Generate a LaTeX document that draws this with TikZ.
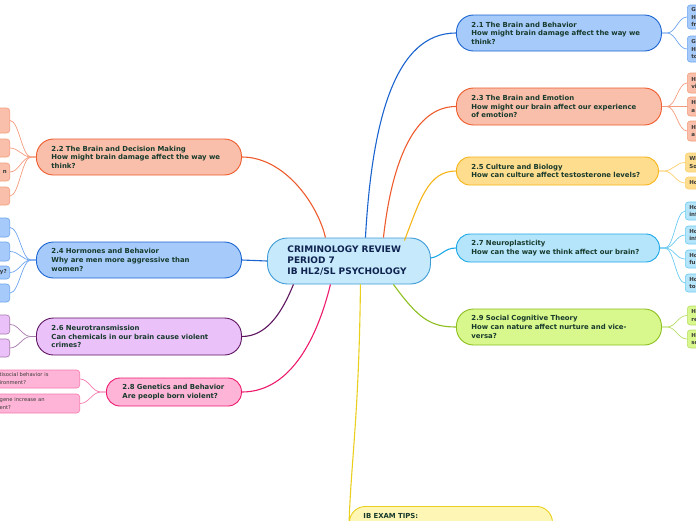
\documentclass[tikz,border=0pt]{standalone}
\usepackage{fontspec}
\setmainfont{DejaVu Sans}
\definecolor{maintext}{HTML}{173A2C}
\definecolor{ctext}{HTML}{0F2350}
\definecolor{leaftext}{HTML}{3A3A3A}
\definecolor{bluef}{HTML}{A6CBFB}\definecolor{blued}{HTML}{1B64D0}\definecolor{bluel}{HTML}{6EA5EE}
\definecolor{salf}{HTML}{F9BFAA}\definecolor{sald}{HTML}{EE5B2C}\definecolor{sall}{HTML}{F59C7E}
\definecolor{yelf}{HTML}{FFDD8E}\definecolor{yeld}{HTML}{F6B418}\definecolor{yell}{HTML}{FAD070}
\definecolor{cyaf}{HTML}{B5E5FB}\definecolor{cyad}{HTML}{1BA8E6}\definecolor{cyal}{HTML}{6CCBF2}
\definecolor{grnf}{HTML}{D8F78C}\definecolor{grnd}{HTML}{8CBF1F}\definecolor{grnl}{HTML}{B8DD68}
\definecolor{purf}{HTML}{EBC1FA}\definecolor{purd}{HTML}{5E1560}\definecolor{purl}{HTML}{A779AD}
\definecolor{pnkf}{HTML}{FEB4D6}\definecolor{pnkd}{HTML}{EC1B6D}\definecolor{pnkl}{HTML}{F57BAE}
\definecolor{ibf}{HTML}{FEF6B5}\definecolor{ibd}{HTML}{EBCF1E}
\definecolor{cenf}{HTML}{C6E9FB}\definecolor{cend}{HTML}{3E9BD6}
\begin{document}
\begin{tikzpicture}[x=1pt,y=-1pt,
  mn/.style={line width=0.9pt, anchor=west, inner xsep=15pt, inner ysep=0pt, align=left,
    font=\bfseries\fontsize{6.9}{8.6}\selectfont, text=maintext},
  cn/.style={line width=0.9pt, anchor=west, inner xsep=20pt, inner ysep=0pt, align=left,
    font=\bfseries\fontsize{9}{11}\selectfont, text=ctext, fill=cenf, draw=cend,
    text width=123pt, minimum height=46pt, rounded corners=20pt},
  rleaf/.style={line width=0.6pt, anchor=west, inner xsep=4pt, inner ysep=0pt, align=left,
    text width=32pt, rounded corners=3pt, font=\bfseries\fontsize{5.5}{7.2}\selectfont, text=leaftext},
  lleaf/.style={line width=0.6pt, anchor=east, inner xsep=3pt, inner ysep=0pt, align=right,
    text width=34pt, rounded corners=3pt, font=\bfseries\fontsize{5.5}{7.2}\selectfont, text=leaftext},
  wleaf/.style={line width=0.6pt, anchor=east, inner xsep=3pt, inner ysep=0pt, align=left,
    text width=77pt, rounded corners=3pt, font=\fontsize{5.2}{8}\selectfont, text=leaftext},
  conn/.style={line width=1.1pt},
  lc/.style={line width=0.7pt}
]
\useasboundingbox (0,0) rectangle (696,520);

% center
\node[cn] (c) at (267,261) {CRIMINOLOGY REVIEW\\PERIOD 7\\IB HL2/SL PSYCHOLOGY};

% main topic nodes
\node[mn, fill=bluef, draw=blued, text width=175pt, minimum height=36pt, rounded corners=17pt] (n21) at (456,33)
  {2.1 The Brain and Behavior\\How might brain damage affect the way we\\think?};
\node[mn, fill=salf, draw=sald, text width=175pt, minimum height=37pt, rounded corners=17pt] (n23) at (456,106.5)
  {2.3 The Brain and Emotion\\How might our brain affect our experience\\of emotion?};
\node[mn, fill=yelf, draw=yeld, text width=172pt, minimum height=28pt, rounded corners=13.5pt] (n25) at (456,171)
  {2.5 Culture and Biology\\How can culture affect testosterone levels?};
\node[mn, fill=cyaf, draw=cyad, text width=173pt, minimum height=28pt, rounded corners=13.5pt] (n27) at (456,248)
  {2.7 Neuroplasticity\\How can the way we think affect our brain?};
\node[mn, fill=grnf, draw=grnd, text width=175pt, minimum height=36pt, rounded corners=17pt] (n29) at (456,327)
  {2.9 Social Cognitive Theory\\How can nature affect nurture and vice-\\versa?};
\node[mn, fill=salf, draw=sald, text width=175pt, minimum height=36pt, rounded corners=17pt] (n22) at (36,157)
  {2.2 The Brain and Decision Making\\How might brain damage affect the way we\\think?};
\node[mn, fill=bluef, draw=blued, text width=175pt, minimum height=36pt, rounded corners=17pt] (n24) at (36,260)
  {2.4 Hormones and Behavior\\Why are men more aggressive than\\women?};
\node[mn, fill=purf, draw=purd, text width=175pt, minimum height=37pt, rounded corners=17pt] (n26) at (36,336.5)
  {2.6 Neurotransmission\\Can chemicals in our brain cause violent\\crimes?};
\node[mn, fill=pnkf, draw=pnkd, inner xsep=16pt, text width=103pt, minimum height=28pt, rounded corners=13.5pt] (n28) at (106,392)
  {2.8 Genetics and Behavior\\Are people born violent?};
\node[mn, anchor=north west, fill=ibf, draw=ibd, inner xsep=14pt, inner ysep=6.5pt, text width=175pt,
  text depth=26pt, rounded corners=16pt] (ib) at (349,506) {IB EXAM TIPS:};

% main connectors
\draw[conn, blued] ([xshift=16.5pt]c.north) .. controls (372,120) and (395,33) .. (n21.west);
\draw[conn, sald] ([xshift=34.5pt]c.north) .. controls (392,160) and (415,106.5) .. (n23.west);
\draw[conn, yeld] ([xshift=55.5pt,yshift=-3pt]c.north) .. controls (420,200) and (428,171) .. (n25.west);
\draw[conn, cyad] ([yshift=3pt]c.east) .. controls (442,256) and (444,248) .. (n27.west);
\draw[conn, grnd] ([xshift=44.5pt]c.south) .. controls (418,318) and (430,327) .. (n29.west);
\draw[conn, sald] ([xshift=-23.5pt]c.north) .. controls (318,205) and (285,157) .. (n22.east);
\draw[conn, blued] (c.west) -- (n24.east);
\draw[conn, purd] ([xshift=-55.5pt]c.south) .. controls (283,310) and (268,336.5) .. (n26.east);
\draw[conn, pnkd] ([xshift=-18.5pt]c.south) .. controls (318,335) and (292,392) .. (n28.east);
\draw[conn, ibd] ([xshift=11.5pt]c.south) .. controls (359,420) and (350,470) .. (ib.west);

% right leaves
\node[rleaf, fill=bluef, draw=bluel, minimum height=24pt] (l21a) at (687,17) {G\\H\\fr};
\node[rleaf, fill=bluef, draw=bluel, minimum height=26pt] (l21b) at (687,49) {G\\H\\to};
\node[rleaf, fill=salf, draw=sall, minimum height=20pt] (l23a) at (687,83) {H\\vi};
\node[rleaf, fill=salf, draw=sall, minimum height=19pt] (l23b) at (687,106.5) {H\\a};
\node[rleaf, fill=salf, draw=sall, minimum height=20pt] (l23c) at (687,131) {H\\a};
\node[rleaf, fill=yelf, draw=yell, minimum height=19pt] (l25a) at (685,162.5) {Wh\\So};
\node[rleaf, fill=yelf, draw=yell, minimum height=12pt] (l25b) at (685,183) {Ho};
\node[rleaf, fill=cyaf, draw=cyal, minimum height=18pt] (l27a) at (685,211) {Ho\\inf};
\node[rleaf, fill=cyaf, draw=cyal, minimum height=18pt] (l27b) at (685,235) {Ho\\inf};
\node[rleaf, fill=cyaf, draw=cyal, minimum height=18pt] (l27c) at (685,259) {Ho\\fu};
\node[rleaf, fill=cyaf, draw=cyal, minimum height=18pt] (l27d) at (685,283) {Ho\\to};
\node[rleaf, fill=grnf, draw=grnl, minimum height=19pt] (l29a) at (687,315.5) {H\\re};
\node[rleaf, fill=grnf, draw=grnl, minimum height=18pt] (l29b) at (687,339) {H\\sc};

% left leaves
\node[lleaf, fill=salf, draw=sall, minimum height=25pt] (l22a) at (10,120.5) {};
\node[lleaf, fill=salf, draw=sall, minimum height=18pt] (l22b) at (10,148) {};
\node[lleaf, fill=salf, draw=sall, minimum height=18pt] (l22c) at (10,172) {n\\[1pt]};
\node[lleaf, fill=salf, draw=sall, minimum height=18pt] (l22d) at (10,196) {};
\node[lleaf, fill=bluef, draw=bluel, minimum height=19pt] (l24a) at (10,227.5) {};
\node[lleaf, fill=bluef, draw=bluel, minimum height=19pt] (l24b) at (10,251.5) {};
\node[lleaf, fill=bluef, draw=bluel, minimum height=13pt] (l24c) at (10,272.5) {y?};
\node[lleaf, fill=bluef, draw=bluel, minimum height=18pt] (l24d) at (10,293) {};
\node[lleaf, fill=purf, draw=purl, minimum height=19pt] (l26a) at (10,324.5) {};
\node[lleaf, fill=purf, draw=purl, minimum height=18pt] (l26b) at (10,348) {};
\node[wleaf, fill=pnkf, draw=pnkl, minimum height=18pt] (l28a) at (80,379) {tisocial behavior is\\ironment?};
\node[wleaf, fill=pnkf, draw=pnkl, minimum height=19pt] (l28b) at (80,403.5) {gene increase an\\ent?};

% leaf connectors right
\foreach \p/\l/\c in {n21/l21a/bluel, n21/l21b/bluel, n23/l23a/sall, n23/l23b/sall, n23/l23c/sall,
  n25/l25a/yell, n25/l25b/yell, n27/l27a/cyal, n27/l27b/cyal, n27/l27c/cyal, n27/l27d/cyal,
  n29/l29a/grnl, n29/l29b/grnl}
  \draw[lc, \c] (\p.east) -- ++(5,0) .. controls +(9,0) and +(-9,0) .. (\l.west);
% leaf connectors left
\foreach \p/\l/\c in {n22/l22a/sall, n22/l22b/sall, n22/l22c/sall, n22/l22d/sall,
  n24/l24a/bluel, n24/l24b/bluel, n24/l24c/bluel, n24/l24d/bluel,
  n26/l26a/purl, n26/l26b/purl, n28/l28a/pnkl, n28/l28b/pnkl}
  \draw[lc, \c] (\p.west) -- ++(-5,0) .. controls +(-9,0) and +(9,0) .. (\l.east);
\end{tikzpicture}
\end{document}
